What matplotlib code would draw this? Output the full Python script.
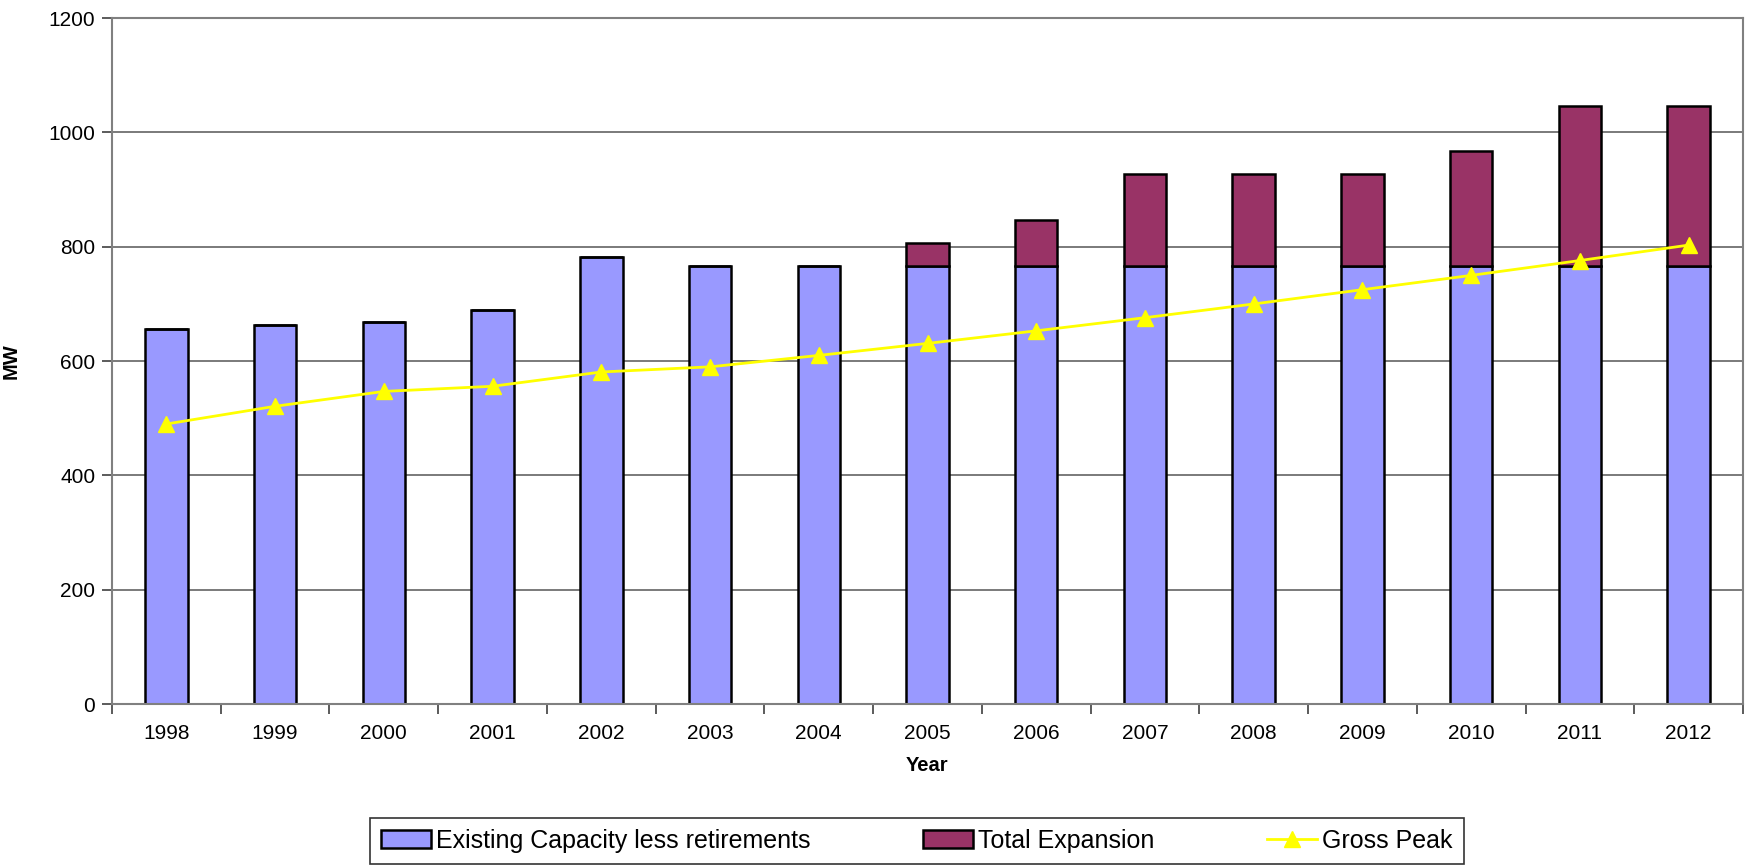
#!/usr/bin/env python3
# -*- coding: utf-8 -*-
"""Capacity vs gross peak chart, 1998-2012."""
import matplotlib

matplotlib.use("Agg")
import matplotlib.pyplot as plt
import numpy as np
from matplotlib.lines import Line2D
from matplotlib.patches import Patch

years = ["1998", "1999", "2000", "2001", "2002", "2003", "2004", "2005",
         "2006", "2007", "2008", "2009", "2010", "2011", "2012"]
existing = [657, 663, 669, 689, 782, 767, 767, 767, 767, 767, 767, 767, 767, 767, 767]
expansion = [0, 0, 0, 0, 0, 0, 0, 40, 80, 160, 160, 160, 200, 280, 280]
gross_peak = [490, 521, 547, 556, 581, 590, 610, 631, 653, 676, 700, 725, 750, 776, 803]

plt.rcParams["font.family"] = ["Liberation Sans", "DejaVu Sans"]

fig = plt.figure(figsize=(17.5, 8.66), dpi=100)
ax = fig.add_axes([0.064, 0.187, 0.932, 0.792])

x = np.arange(len(years))
blue = "#9999ff"
maroon = "#993366"
ax.bar(x, existing, width=0.39, color=blue, edgecolor="black", linewidth=1.8, zorder=2)
ax.bar(x, expansion, width=0.39, bottom=existing, color=maroon,
       edgecolor="black", linewidth=1.8, zorder=2)
ax.plot(x, gross_peak, color="#ffff00", linewidth=2, marker="^", markersize=12,
        markeredgecolor="#ffff00", zorder=3)

ax.set_xlim(-0.5, len(years) - 0.5)
ax.set_ylim(0, 1200)
ax.set_yticks(range(0, 1201, 200))
ax.yaxis.grid(True, color="#707070", linewidth=1.3, zorder=0)
ax.set_axisbelow(True)

ax.set_xticks(x)
ax.set_xticklabels(years)
ax.set_xticks(np.arange(-0.5, len(years), 1), minor=True)
ax.tick_params(axis="x", which="major", length=0, pad=14, labelsize=15)
ax.tick_params(axis="x", which="minor", length=7, width=1.2, color="#404040")
ax.tick_params(axis="y", length=7, width=1.2, color="#404040", labelsize=15, pad=5)
for side in ["left", "bottom", "top", "right"]:
    ax.spines[side].set_color("#808080")
    ax.spines[side].set_linewidth(1.5)

ax.set_xlabel("Year", fontsize=14.5, fontweight="bold", labelpad=10)
ax.set_ylabel("MW", fontsize=14.5, fontweight="bold", labelpad=20)

handles = [
    Patch(facecolor=blue, edgecolor="black", linewidth=1.8),
    Patch(facecolor=maroon, edgecolor="black", linewidth=1.8),
    Line2D([], [], color="#ffff00", linewidth=2, marker="^", markersize=12,
           markeredgecolor="#ffff00"),
]
labels = ["Existing Capacity less retirements", "Total Expansion", "Gross Peak"]
leg = fig.legend(handles, labels, loc="center", bbox_to_anchor=(0.524, 0.029), ncol=3,
                 fontsize=18, frameon=True, fancybox=False, edgecolor="black",
                 handlelength=2.0, handletextpad=0.2, columnspacing=4.5,
                 borderpad=0.45, borderaxespad=0.0)
leg.get_frame().set_linewidth(1.2)

fig.savefig("out.png", dpi=100)
